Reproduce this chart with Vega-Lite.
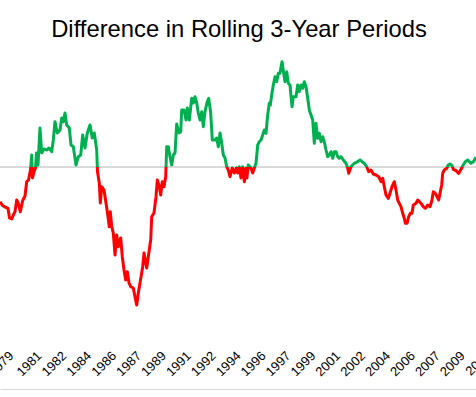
{
  "$schema": "https://vega.github.io/schema/vega-lite/v6.json",
  "width": 484,
  "height": 339,
  "autosize": {"type": "none"},
  "padding": {"left": 0, "right": 0, "top": 50, "bottom": 8},
  "background": "white",
  "config": {"view": {"stroke": null}},
  "title": {"text": "Difference in Rolling 3-Year Periods", "font": "Liberation Sans", "fontSize": 23.8, "fontWeight": "normal", "color": "#000000", "anchor": "middle", "baseline": "alphabetic", "offset": 15.7, "dy": 26, "dx": -3},
  "data": {"values": [
    {"t":1978.750,"v":-3.44},{"t":1978.917,"v":-3.82},{"t":1979.085,"v":-3.97},{"t":1979.285,"v":-4.10},{"t":1979.386,"v":-5.07},{"t":1979.533,"v":-5.17},{"t":1979.640,"v":-4.77},{"t":1979.754,"v":-4.44},{"t":1979.868,"v":-3.27},{"t":1979.975,"v":-3.60},{"t":1980.109,"v":-4.44},{"t":1980.269,"v":-3.32},{"t":1980.423,"v":-2.87},{"t":1980.537,"v":-1.44},{"t":1980.658,"v":-1.27},{"t":1980.791,"v":-0.27},{"t":1980.872,"v":1.23},{"t":1980.925,"v":-1.07},{"t":1981.059,"v":-0.27},{"t":1981.126,"v":-0.07},{"t":1981.193,"v":1.43},{"t":1981.293,"v":0.23},{"t":1981.427,"v":3.93},{"t":1981.541,"v":1.43},{"t":1981.695,"v":1.83},{"t":1981.876,"v":1.73},{"t":1982.030,"v":1.93},{"t":1982.210,"v":1.56},{"t":1982.318,"v":2.73},{"t":1982.431,"v":4.56},{"t":1982.585,"v":3.43},{"t":1982.766,"v":3.73},{"t":1982.880,"v":4.93},{"t":1982.987,"v":4.56},{"t":1983.101,"v":5.43},{"t":1983.214,"v":4.23},{"t":1983.389,"v":3.93},{"t":1983.502,"v":2.23},{"t":1983.656,"v":2.06},{"t":1983.837,"v":0.23},{"t":1983.991,"v":1.06},{"t":1984.152,"v":1.23},{"t":1984.285,"v":3.23},{"t":1984.439,"v":1.93},{"t":1984.593,"v":3.43},{"t":1984.774,"v":4.23},{"t":1984.928,"v":2.93},{"t":1985.062,"v":3.43},{"t":1985.223,"v":1.73},{"t":1985.276,"v":-0.44},{"t":1985.397,"v":-1.57},{"t":1985.464,"v":-3.57},{"t":1985.557,"v":-1.94},{"t":1985.711,"v":-2.27},{"t":1985.845,"v":-3.57},{"t":1985.932,"v":-4.44},{"t":1986.066,"v":-5.94},{"t":1986.133,"v":-4.44},{"t":1986.227,"v":-5.94},{"t":1986.334,"v":-6.57},{"t":1986.447,"v":-8.77},{"t":1986.561,"v":-6.77},{"t":1986.668,"v":-7.94},{"t":1986.829,"v":-7.07},{"t":1986.936,"v":-8.94},{"t":1987.050,"v":-10.27},{"t":1987.164,"v":-11.27},{"t":1987.271,"v":-10.44},{"t":1987.385,"v":-11.57},{"t":1987.498,"v":-11.94},{"t":1987.672,"v":-12.07},{"t":1987.786,"v":-12.94},{"t":1987.900,"v":-13.77},{"t":1988.007,"v":-12.57},{"t":1988.121,"v":-11.57},{"t":1988.302,"v":-9.94},{"t":1988.389,"v":-8.57},{"t":1988.569,"v":-10.07},{"t":1988.676,"v":-8.94},{"t":1988.837,"v":-7.27},{"t":1988.904,"v":-4.94},{"t":1989.058,"v":-4.57},{"t":1989.192,"v":-2.94},{"t":1989.279,"v":-1.27},{"t":1989.413,"v":-1.94},{"t":1989.506,"v":-2.77},{"t":1989.614,"v":-1.44},{"t":1989.727,"v":-1.94},{"t":1989.841,"v":-0.94},{"t":1989.908,"v":2.06},{"t":1990.015,"v":2.06},{"t":1990.129,"v":1.06},{"t":1990.243,"v":0.23},{"t":1990.350,"v":1.23},{"t":1990.464,"v":1.43},{"t":1990.577,"v":4.33},{"t":1990.731,"v":3.43},{"t":1990.845,"v":3.56},{"t":1990.912,"v":5.73},{"t":1991.066,"v":5.73},{"t":1991.200,"v":4.73},{"t":1991.287,"v":5.93},{"t":1991.421,"v":4.73},{"t":1991.581,"v":6.90},{"t":1991.688,"v":6.43},{"t":1991.802,"v":7.06},{"t":1991.916,"v":6.43},{"t":1992.023,"v":5.43},{"t":1992.137,"v":4.73},{"t":1992.251,"v":5.56},{"t":1992.358,"v":4.06},{"t":1992.472,"v":5.56},{"t":1992.626,"v":6.56},{"t":1992.719,"v":6.90},{"t":1992.853,"v":5.43},{"t":1992.960,"v":2.73},{"t":1993.141,"v":2.73},{"t":1993.255,"v":2.93},{"t":1993.362,"v":2.06},{"t":1993.476,"v":3.43},{"t":1993.589,"v":2.43},{"t":1993.697,"v":1.23},{"t":1993.810,"v":0.93},{"t":1993.924,"v":0.06},{"t":1994.031,"v":-0.27},{"t":1994.145,"v":-0.94},{"t":1994.299,"v":-0.07},{"t":1994.433,"v":-0.57},{"t":1994.567,"v":-0.07},{"t":1994.660,"v":-0.57},{"t":1994.767,"v":0.06},{"t":1994.881,"v":-1.07},{"t":1994.995,"v":0.06},{"t":1995.102,"v":-1.44},{"t":1995.216,"v":-0.10},{"t":1995.276,"v":-1.07},{"t":1995.370,"v":0.23},{"t":1995.551,"v":-0.10},{"t":1995.664,"v":-0.57},{"t":1995.771,"v":-0.10},{"t":1995.885,"v":0.40},{"t":1995.999,"v":2.23},{"t":1996.106,"v":2.56},{"t":1996.220,"v":2.73},{"t":1996.334,"v":3.23},{"t":1996.441,"v":3.73},{"t":1996.554,"v":3.40},{"t":1996.668,"v":5.23},{"t":1996.775,"v":6.40},{"t":1996.842,"v":6.23},{"t":1996.936,"v":7.23},{"t":1997.043,"v":8.23},{"t":1997.157,"v":9.06},{"t":1997.271,"v":8.56},{"t":1997.378,"v":9.40},{"t":1997.492,"v":9.40},{"t":1997.626,"v":10.56},{"t":1997.739,"v":9.40},{"t":1997.826,"v":8.56},{"t":1997.940,"v":9.56},{"t":1998.047,"v":8.40},{"t":1998.161,"v":8.23},{"t":1998.295,"v":6.06},{"t":1998.382,"v":7.06},{"t":1998.563,"v":7.06},{"t":1998.676,"v":8.23},{"t":1998.783,"v":7.56},{"t":1998.897,"v":8.23},{"t":1999.011,"v":7.90},{"t":1999.118,"v":8.56},{"t":1999.232,"v":8.06},{"t":1999.346,"v":6.90},{"t":1999.453,"v":5.73},{"t":1999.567,"v":5.23},{"t":1999.680,"v":4.73},{"t":1999.788,"v":2.40},{"t":1999.901,"v":4.40},{"t":2000.015,"v":2.90},{"t":2000.122,"v":3.40},{"t":2000.236,"v":2.56},{"t":2000.350,"v":3.06},{"t":2000.457,"v":2.56},{"t":2000.571,"v":1.73},{"t":2000.684,"v":1.06},{"t":2000.792,"v":1.23},{"t":2000.905,"v":1.56},{"t":2001.019,"v":0.90},{"t":2001.126,"v":1.56},{"t":2001.240,"v":1.56},{"t":2001.354,"v":1.06},{"t":2001.461,"v":0.90},{"t":2001.575,"v":1.06},{"t":2001.729,"v":0.73},{"t":2001.909,"v":0.40},{"t":2002.023,"v":-0.10},{"t":2002.090,"v":-0.60},{"t":2002.244,"v":0.06},{"t":2002.465,"v":0.40},{"t":2002.692,"v":0.56},{"t":2002.846,"v":0.73},{"t":2002.980,"v":0.56},{"t":2003.134,"v":0.40},{"t":2003.295,"v":0.06},{"t":2003.429,"v":-0.44},{"t":2003.583,"v":-0.27},{"t":2003.737,"v":-0.67},{"t":2003.917,"v":-0.77},{"t":2004.098,"v":-0.94},{"t":2004.252,"v":-1.44},{"t":2004.366,"v":-1.10},{"t":2004.473,"v":-1.94},{"t":2004.587,"v":-2.77},{"t":2004.741,"v":-3.10},{"t":2004.854,"v":-2.60},{"t":2004.988,"v":-1.94},{"t":2005.142,"v":-1.44},{"t":2005.256,"v":-2.27},{"t":2005.370,"v":-3.27},{"t":2005.477,"v":-3.60},{"t":2005.591,"v":-3.94},{"t":2005.704,"v":-4.60},{"t":2005.812,"v":-5.10},{"t":2005.879,"v":-5.60},{"t":2005.992,"v":-5.60},{"t":2006.106,"v":-4.94},{"t":2006.213,"v":-4.60},{"t":2006.327,"v":-4.60},{"t":2006.414,"v":-3.77},{"t":2006.595,"v":-3.60},{"t":2006.709,"v":-3.27},{"t":2006.816,"v":-3.44},{"t":2006.929,"v":-3.60},{"t":2007.083,"v":-3.94},{"t":2007.217,"v":-4.10},{"t":2007.378,"v":-3.77},{"t":2007.532,"v":-3.94},{"t":2007.666,"v":-3.27},{"t":2007.753,"v":-2.44},{"t":2007.887,"v":-2.60},{"t":2008.000,"v":-2.94},{"t":2008.114,"v":-3.27},{"t":2008.201,"v":-2.60},{"t":2008.315,"v":-1.77},{"t":2008.382,"v":-0.60},{"t":2008.489,"v":-0.27},{"t":2008.650,"v":-0.10},{"t":2008.757,"v":0.23},{"t":2008.871,"v":0.33},{"t":2009.004,"v":0.18},{"t":2009.091,"v":-0.20},{"t":2009.272,"v":-0.34},{"t":2009.453,"v":-0.60},{"t":2009.607,"v":-0.20},{"t":2009.721,"v":0.13},{"t":2009.895,"v":0.56},{"t":2010.055,"v":0.73},{"t":2010.162,"v":0.56},{"t":2010.276,"v":0.40},{"t":2010.430,"v":0.56},{"t":2010.611,"v":1.00}
  ]},
  "layer": [
    {"mark": {"type": "rule", "color": "#d9d9d9", "strokeWidth": 1},
      "encoding": {"y": {"datum": 0, "type": "quantitative", "axis": null}}},
    {"mark": {"type": "line", "strokeWidth": 3, "strokeJoin": "round",
      "color": {"gradient": "linear", "x1": 0, "y1": 0, "x2": 0, "y2": 1,
        "stops": [{"offset": 0, "color": "#00b050"}, {"offset": 0.434, "color": "#00b050"}, {"offset": 0.434, "color": "#ff0000"}, {"offset": 1, "color": "#ff0000"}]}},
      "encoding": {
        "x": {"field": "t", "type": "quantitative",
          "scale": {"domain": [1978.75, 2011.146], "nice": false, "zero": false},
          "axis": {"title": null, "grid": false, "ticks": false, "domainColor": "#d9d9d9", "domainWidth": 1,
            "values": [1979.2, 1981.0833, 1982.75, 1984.4167, 1986.0833, 1987.75, 1989.4167, 1991.0833, 1992.75, 1994.4167, 1996.0833, 1997.75, 1999.4167, 2001.0833, 2002.75, 2004.4167, 2006.0833, 2007.75, 2009.4167, 2011.0833],
            "labelExpr": "floor(datum.value)", "labelAngle": -45, "labelFont": "Liberation Sans", "labelFontSize": 13, "labelColor": "#000000", "labelPadding": -40, "labelOverlap": false, "labelBound": false, "labelFlush": false}},
        "y": {"field": "v", "type": "quantitative", "scale": {"domain": [-22.17, 11.73], "nice": false, "zero": false}, "axis": null}}}
  ]
}
